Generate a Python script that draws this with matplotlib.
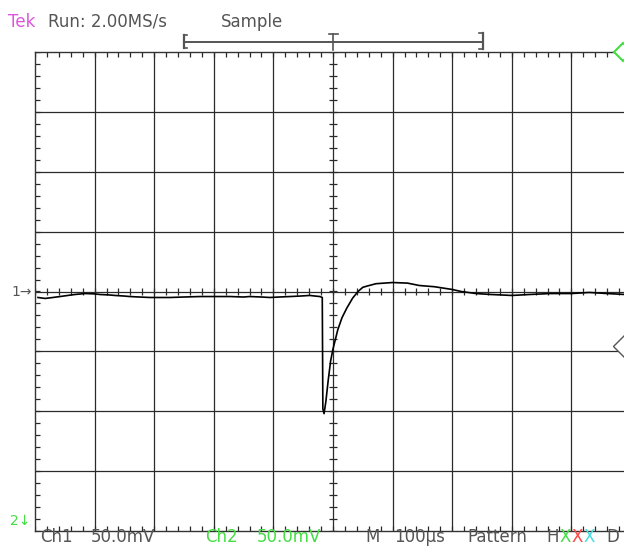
import numpy as np
import matplotlib
matplotlib.use("Agg")
import matplotlib.pyplot as plt

plt.rcParams["font.family"] = ["DejaVu Sans"]

# ch1 trace, time in us (100us/div), voltage in mV (50mV/div)
TIME_US = [-495, -483, -470, -458, -445, -433, -416, -400, -391, -375, -366, -350, -341,
           -325, -307, -290, -273, -250, -223, -200, -173, -150, -140, -120, -106, -90,
           -72, -55, -39, -30, -22, -18, -17, -15, -12, -8, -4, 0, 4, 8, 15, 23, 33, 42, 50, 57,
           72, 100, 125, 145, 170, 200, 215, 240, 265, 300, 330, 365, 400, 430, 460, 490, 510]
CH1_MV = [-5.0, -5.8, -5.0, -4.2, -3.3, -2.5, -1.7, -2.0, -2.5, -2.9, -3.3, -3.8, -4.2,
          -4.6, -5.0, -5.0, -5.0, -4.6, -4.2, -4.2, -4.2, -4.6, -4.2, -4.6, -5.0, -4.6,
          -4.2, -3.8, -3.3, -3.8, -4.2, -5.0, -98.0, -102.0, -92.0, -74.0, -58.0, -48.0,
          -40.0, -32.0, -22.0, -14.0, -5.5, 0.0, 3.5, 4.5, 6.5, 7.5, 7.0, 5.0, 4.0, 1.7,
          0.0, -1.7, -2.5, -3.3, -2.5, -1.7, -1.7, -0.8, -1.7, -2.5, -2.5]

US_PER_DIV = 100
MV_PER_DIV = 50

TOP_LEFT = ["Tek", "Run: 2.00MS/s", "Sample"]
BOTTOM_TEXT = [("Ch1", 40, "#555555"), ("50.0mV", 91, "#555555"),
               ("Ch2", 205, "#44dd44"), ("50.0mV", 257, "#44dd44"),
               ("M", 365, "#555555"), ("100\u00b5s", 394, "#555555"),
               ("Pattern", 467, "#555555"), ("H", 546, "#555555"),
               ("X", 559, "#44dd44"), ("X", 571, "#ff4444"), ("X", 583, "#44dddd"),
               ("D", 606, "#555555")]

fig = plt.figure(figsize=(6.24, 5.46), dpi=100)
W, H = 624, 546
ax = fig.add_axes([35 / W, 15 / H, 596 / W, 479 / H])
ax.set_xlim(-5, 5)
ax.set_ylim(-4, 4)
ax.set_xticks([])
ax.set_yticks([])
for s in ax.spines.values():
    s.set_color("#333333")
    s.set_linewidth(1.0)

grid_c = "#2a2a2a"
for gx in range(-4, 5):
    ax.axvline(gx, color=grid_c, lw=0.9, zorder=1)
for gy in range(-3, 4):
    ax.axhline(gy, color=grid_c, lw=0.9, zorder=1)

# minor ticks on centre cross and borders
tl_x = 4 / 59.6
tl_y = 4 / 60
minor_x = np.arange(-5, 5.01, 0.2)
minor_y = np.arange(-4, 4.01, 0.2)
ax.vlines(minor_x, -tl_y, tl_y, color=grid_c, lw=0.9)
ax.hlines(minor_y, -tl_x, tl_x, color=grid_c, lw=0.9)
ax.vlines(minor_x, 4 - 1.3 * tl_y, 4, color=grid_c, lw=0.9)
ax.vlines(minor_x, -4, -4 + 1.3 * tl_y, color=grid_c, lw=0.9)
ax.hlines(minor_y, -5, -5 + 1.3 * tl_x, color=grid_c, lw=0.9)

t = np.array(TIME_US) / US_PER_DIV
v = np.array(CH1_MV) / MV_PER_DIV
ax.plot(t, v, color="black", lw=1.2, zorder=3)

# overlay in pixel units for the scope annotations
ov = fig.add_axes([0, 0, 1, 1], facecolor="none")
ov.set_xlim(0, W)
ov.set_ylim(H, 0)
ov.axis("off")

fs = 12
ov.text(8, 27, TOP_LEFT[0], color="#dd55dd", fontsize=fs, va="baseline")
ov.text(48, 27, TOP_LEFT[1], color="#555555", fontsize=fs, va="baseline")
ov.text(221, 27, TOP_LEFT[2], color="#555555", fontsize=fs, va="baseline")

for txt, x, c in BOTTOM_TEXT:
    ov.text(x, 542, txt, color=c, fontsize=fs, va="baseline")

ov.text(11, 292, "1\u2192", color="#555555", fontsize=10, va="center")
ov.text(10, 521, "2\u2193", color="#44dd44", fontsize=10, va="center")

# record-length bar
bc = "#555555"
ov.plot([184, 483], [42, 42], color=bc, lw=1.4)
ov.plot([184, 184], [35, 48], color=bc, lw=1.6)
ov.plot([184, 187], [35, 35], color=bc, lw=1.2)
ov.plot([184, 187], [48, 48], color=bc, lw=1.2)
ov.plot([333, 333], [34, 50], color=bc, lw=1.2)
ov.plot([329, 338], [34, 34], color=bc, lw=1.2)
ov.plot([483, 483], [33, 49], color=bc, lw=1.6)
ov.plot([479, 483], [33, 33], color=bc, lw=1.2)
ov.plot([479, 483], [49, 49], color=bc, lw=1.2)

# trigger markers
ov.plot([623], [52], marker="D", ms=9, mfc="white", mec="#44dd44", mew=1.5, clip_on=False)
ov.plot([624], [346], marker="D", ms=11, mfc="white", mec="#555555", mew=1.0, clip_on=False)

fig.savefig("out.png", dpi=100)
